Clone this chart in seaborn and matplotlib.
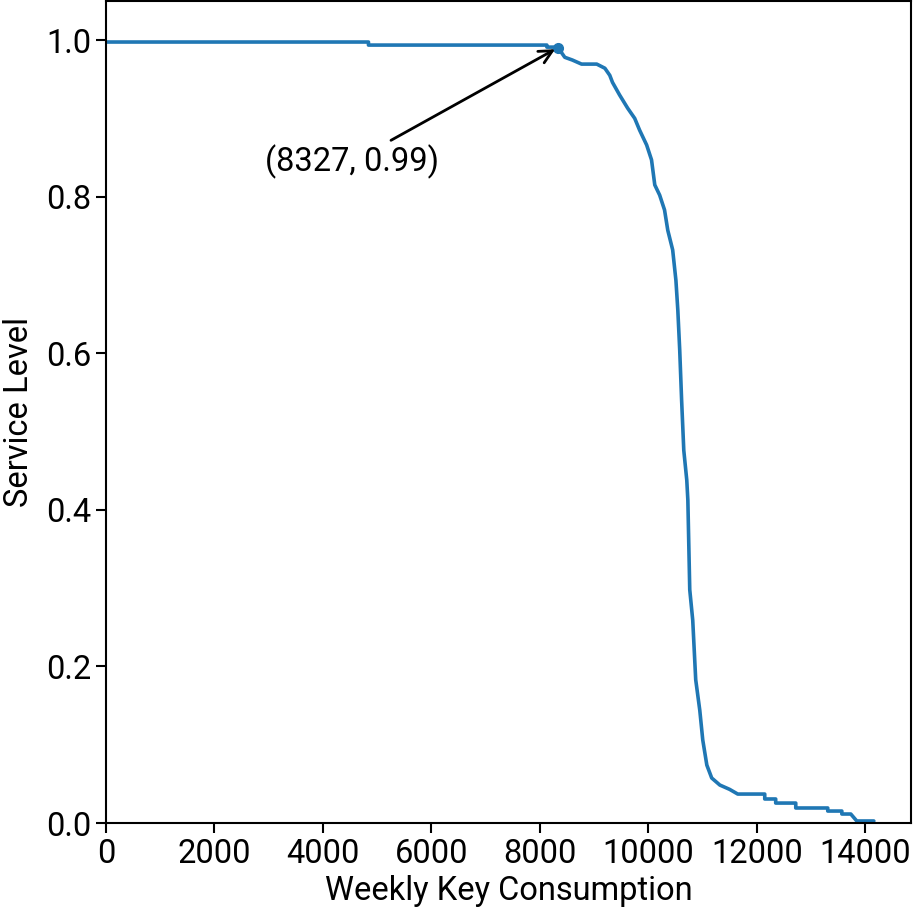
import numpy as np
import pandas as pd
import matplotlib
matplotlib.use("Agg")
import matplotlib.pyplot as plt
import seaborn as sns

# survival curve: weekly key consumption vs service level
consumption = [0, 4840, 4840, 8130, 8130, 8330, 8460, 8600, 8770, 9050, 9200,
               9290, 9340, 9470, 9620, 9750, 9840, 9970, 10060, 10120, 10210,
               10300, 10360, 10450, 10510, 10545, 10580, 10615, 10655, 10710,
               10730, 10765, 10820, 10875, 10950, 11005, 11080, 11170, 11320,
               11500, 11650, 12148, 12148, 12350, 12350, 12720, 12720, 13310,
               13310, 13570, 13570, 13735, 13845, 14160]
service_level = [0.9975, 0.9975, 0.9936, 0.9936, 0.991, 0.991, 0.978, 0.9745,
                 0.9693, 0.9693, 0.964, 0.955, 0.946, 0.930, 0.913, 0.900, 0.885,
                 0.866, 0.847, 0.815, 0.802, 0.783, 0.757, 0.732, 0.693, 0.655,
                 0.604, 0.540, 0.476, 0.438, 0.4125, 0.298, 0.259, 0.183, 0.144,
                 0.106, 0.074, 0.0575, 0.0485, 0.043, 0.037, 0.037, 0.0307,
                 0.0307, 0.0255, 0.0255, 0.0192, 0.0192, 0.0153, 0.0153, 0.0115,
                 0.0115, 0.0026, 0.0026]

target_x = 8327
target_y = 0.99

df = pd.DataFrame({'consumption': consumption, 'service_level': service_level})

sns.set_style("ticks")
plt.rcParams['font.family'] = ['Roboto', 'DejaVu Sans']
for k in ['text.color', 'axes.labelcolor', 'xtick.color', 'ytick.color', 'axes.edgecolor']:
    plt.rcParams[k] = 'black'

fig, ax = plt.subplots(figsize=(9.14, 9.16), dpi=100)
sns.lineplot(data=df, x='consumption', y='service_level', estimator=None, sort=False,
             color='#1f77b4', linewidth=2.6, ax=ax)
ax.plot([target_x], [target_y], 'o', color='#1f77b4', markersize=7)

ax.annotate(f"({target_x}, {target_y})", xy=(target_x, target_y), xytext=(4528, 0.844),
            ha='center', va='center', fontsize=23.5,
            arrowprops=dict(arrowstyle='->', color='black', lw=2))

ax.set_xlim(0, 14850)
ax.set_ylim(0, 1.05)
ax.set_xticks(np.arange(0, 14001, 2000))
ax.set_yticks(np.arange(0, 1.01, 0.2))
ax.tick_params(labelsize=23.5, width=1.5, length=7)
for s in ax.spines.values():
    s.set_linewidth(1.5)
ax.set_xlabel('Weekly Key Consumption', fontsize=23.5)
ax.set_ylabel('Service Level', fontsize=23.5, labelpad=8)

plt.subplots_adjust(left=0.116, right=0.997, top=0.999, bottom=0.1015)
plt.savefig("out.png", dpi=100)
